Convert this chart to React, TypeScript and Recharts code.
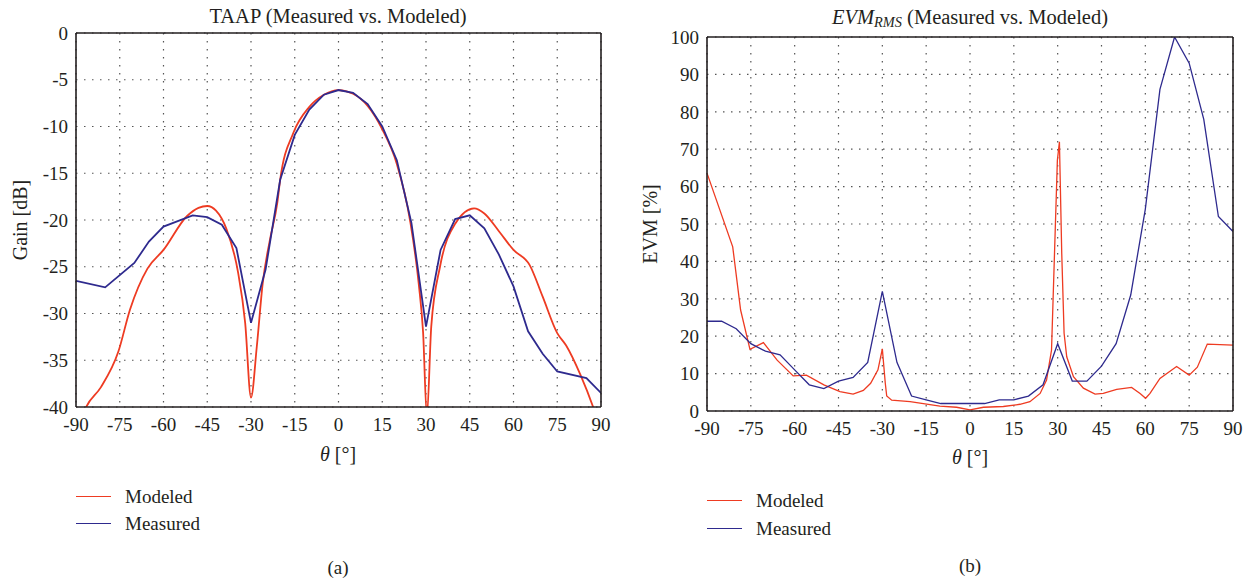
import { LineChart, Line, XAxis, YAxis, CartesianGrid } from 'recharts';

// shared angle ticks
const angleTicks = [-90, -75, -60, -45, -30, -15, 0, 15, 30, 45, 60, 75, 90];
const gainTicks = [-40, -35, -30, -25, -20, -15, -10, -5, 0];
const evmTicks = [0, 10, 20, 30, 40, 50, 60, 70, 80, 90, 100];

// (a) TAAP, modeled
const taapModeledAngle = [-90, -86.5, -81.5, -75.5, -71.5, -65.5, -60, -52, -48, -45, -42, -38.5, -34.5, -32, -30, -28, -26, -23.5, -21, -20, -15.5, -10, -5, 0, 5, 10, 15, 20, 24.5, 27.5, 29, 30.3, 31.8, 34.8, 40, 46.5, 50, 55, 60, 65.5, 70, 75, 78, 83, 87.3, 90];
const taapModeledGain = [-43, -40, -37.9, -34.1, -29.6, -25.2, -23.2, -19.6, -18.7, -18.5, -19, -20.9, -25.5, -31, -39, -33.5, -26.8, -22.1, -18.2, -15.7, -10.7, -7.9, -6.6, -6.1, -6.5, -7.8, -10.3, -14, -20, -26.8, -32, -41, -31.4, -25, -20.4, -18.75, -19.3, -21.2, -23.2, -24.8, -28.2, -32.1, -33.4, -36.6, -40, -42.5];

// (a) TAAP, measured
const taapMeasuredAngle = [-90, -80, -70, -65, -60, -50, -45, -40, -35, -30, -25, -20, -15, -10, -5, 0, 5, 10, 15, 20, 25, 30, 35, 40, 45, 50, 55, 60, 65, 70, 75, 85, 90];
const taapMeasuredGain = [-26.5, -27.2, -24.6, -22.3, -20.7, -19.5, -19.7, -20.5, -23, -31, -25.3, -15.7, -10.9, -8.2, -6.6, -6.1, -6.4, -7.6, -10, -13.6, -20.3, -31.4, -23.2, -19.9, -19.5, -20.9, -23.7, -27.1, -31.9, -34.3, -36.2, -36.9, -38.5];

// (b) EVM, modeled
const evmModeledAngle = [-90, -81.2, -78.5, -75.3, -70.7, -66, -60.5, -56, -50, -44.5, -40, -36.5, -34, -31.5, -30, -29, -28.5, -26.8, -20.5, -10.3, -4.6, 0, 4.6, 11.4, 17.1, 20.5, 24, 26.2, 27.9, 29.9, 30.6, 31.4, 32.2, 33.1, 35.4, 38.8, 42.8, 45.6, 50.2, 55.3, 58.2, 60.1, 61.6, 65, 70.7, 75, 77.8, 81.2, 90];
const evmModeledValue = [63.6, 43.9, 27, 16.5, 18.3, 13.6, 9.4, 9.6, 7, 5.2, 4.5, 5.5, 7.4, 11, 16.6, 7.5, 4, 2.9, 2.5, 1.3, 1, 0.3, 1, 1.2, 1.8, 2.5, 4.7, 8.3, 16.3, 67, 72, 42, 20.8, 14.5, 9.2, 6.1, 4.5, 4.7, 5.8, 6.3, 4.7, 3.4, 4.7, 8.7, 11.9, 9.6, 11.7, 17.9, 17.6];

// (b) EVM, measured
const evmMeasuredAngle = [-90, -85, -80, -75, -70, -65, -60, -55, -50, -45, -40, -35, -30, -25, -20, -15, -10, -5, 0, 5, 10, 15, 20, 25, 30, 35, 40, 45, 50, 55, 60, 65, 70, 75, 80, 85, 90];
const evmMeasuredValue = [24, 24, 22, 18, 16, 15, 11, 7, 6, 8, 9, 13, 32, 13, 4, 3, 2, 2, 2, 2, 3, 3, 4, 7, 18, 8, 8, 12, 18, 31, 54, 86, 100, 93, 78, 52, 48];

const RED = '#ee3b22';
const BLUE = '#2e2a8e';
const INK = '#231f20';
const FONT = '"Liberation Serif", "DejaVu Serif", serif';

const toPoints = (xs: number[], ys: number[]) => xs.map((x, i) => ({ x, y: ys[i] }));

const tickStyle = { fontSize: 19, fill: INK, fontFamily: FONT };

function Panel({
  width, height, margin, yWidth, yTicks, yDomain, modeled, measured, curved, lineWidth,
}: {
  width: number; height: number; margin: any; yWidth: number; yTicks: number[]; yDomain: [number, number];
  modeled: { x: number; y: number }[]; measured: { x: number; y: number }[]; curved: boolean; lineWidth: number;
}) {
  return (
    <LineChart width={width} height={height} margin={margin}>
      <CartesianGrid xAxisId="x" yAxisId="y" stroke="#555" strokeDasharray="1.5 6.5" strokeWidth={1.2} />
      <XAxis xAxisId="x" dataKey="x" type="number" domain={[-90, 90]} ticks={angleTicks} allowDataOverflow
        tick={tickStyle} tickLine={false} tickSize={0} tickMargin={11} height={30}
        axisLine={{ stroke: INK, strokeWidth: 1.6 }} />
      <XAxis xAxisId="xin" dataKey="x" type="number" domain={[-90, 90]} ticks={angleTicks} allowDataOverflow
        mirror tick={false} tickSize={5} tickLine={{ stroke: INK }} axisLine={false} />
      <XAxis xAxisId="xtop" orientation="top" dataKey="x" type="number" domain={[-90, 90]} ticks={angleTicks} allowDataOverflow
        mirror tick={false} tickSize={5} tickLine={{ stroke: INK }} axisLine={{ stroke: INK, strokeWidth: 1.6 }} />
      <YAxis yAxisId="y" dataKey="y" type="number" domain={yDomain} ticks={yTicks} allowDataOverflow width={yWidth}
        tick={tickStyle} tickLine={false} tickSize={0} tickMargin={8}
        axisLine={{ stroke: INK, strokeWidth: 1.6 }} />
      <YAxis yAxisId="yin" dataKey="y" type="number" domain={yDomain} ticks={yTicks} allowDataOverflow
        mirror tick={false} tickSize={5} tickLine={{ stroke: INK }} axisLine={false} />
      <YAxis yAxisId="yright" orientation="right" dataKey="y" type="number" domain={yDomain} ticks={yTicks} allowDataOverflow
        mirror tick={false} tickSize={5} tickLine={{ stroke: INK }} axisLine={{ stroke: INK, strokeWidth: 1.6 }} />
      <Line xAxisId="x" yAxisId="y" data={modeled} dataKey="y" type={curved ? 'monotone' : 'linear'}
        stroke={RED} strokeWidth={lineWidth} dot={false} isAnimationActive={false} />
      <Line xAxisId="x" yAxisId="y" data={measured} dataKey="y" type="linear"
        stroke={BLUE} strokeWidth={lineWidth} dot={false} isAnimationActive={false} />
    </LineChart>
  );
}

const textBase: React.CSSProperties = {
  position: 'absolute', fontFamily: FONT, color: INK, fontSize: 19, whiteSpace: 'nowrap', lineHeight: 1,
};

function Centered({ x, y, children, style }: { x: number; y: number; children: any; style?: React.CSSProperties }) {
  return (
    <div style={{ ...textBase, left: x, top: y, transform: 'translate(-50%, -50%)', ...style }}>{children}</div>
  );
}

function LegendBox({ x, y, gap }: { x: number; y: number; gap: number }) {
  const row = (color: string, label: string, top: number) => (
    <div style={{ position: 'absolute', left: x, top: top - 10, height: 20, display: 'flex', alignItems: 'center' }}>
      <div style={{ width: 35, height: 0, borderTop: `1.3px solid ${color}` }} />
      <span style={{ ...textBase, position: 'static', marginLeft: 14 }}>{label}</span>
    </div>
  );
  return (
    <>
      {row(RED, 'Modeled', y)}
      {row(BLUE, 'Measured', y + gap)}
    </>
  );
}

export default function App() {
  return (
    <div style={{ position: 'absolute', left: 0, top: 0, width: 1253, height: 582, background: '#fff', overflow: 'hidden' }}>
      <div style={{ position: 'absolute', left: 0, top: 0 }}>
        <Panel width={620} height={450} margin={{ top: 33, right: 19, bottom: 13, left: 0 }} yWidth={76}
          yTicks={gainTicks} yDomain={[-40, 0]}
          modeled={toPoints(taapModeledAngle, taapModeledGain)}
          measured={toPoints(taapMeasuredAngle, taapMeasuredGain)} curved lineWidth={1.8} />
      </div>
      <div style={{ position: 'absolute', left: 620, top: 0 }}>
        <Panel width={633} height={450} margin={{ top: 37, right: 20, bottom: 9, left: 0 }} yWidth={87}
          yTicks={evmTicks} yDomain={[0, 100]}
          modeled={toPoints(evmModeledAngle, evmModeledValue)}
          measured={toPoints(evmMeasuredAngle, evmMeasuredValue)} curved={false} lineWidth={1.3} />
      </div>

      <Centered x={338} y={16} style={{ fontSize: 20.5 }}>TAAP (Measured vs. Modeled)</Centered>
      <Centered x={970} y={18} style={{ fontSize: 20.5 }}>
        <i>EVM<sub style={{ fontSize: '0.7em', verticalAlign: '-0.25em' }}>RMS</sub></i> (Measured vs. Modeled)
      </Centered>

      <Centered x={20} y={220} style={{ fontSize: 20, transform: 'translate(-50%, -50%) rotate(-90deg)' }}>Gain [dB]</Centered>
      <Centered x={650} y={224} style={{ fontSize: 20, transform: 'translate(-50%, -50%) rotate(-90deg)' }}>EVM [%]</Centered>

      <Centered x={338} y={454} style={{ fontSize: 20 }}><i>θ</i> [°]</Centered>
      <Centered x={970} y={457} style={{ fontSize: 20 }}><i>θ</i> [°]</Centered>

      <LegendBox x={76} y={496} gap={27} />
      <LegendBox x={707} y={500} gap={28} />

      <Centered x={338} y={567}>(a)</Centered>
      <Centered x={970} y={565}>(b)</Centered>
    </div>
  );
}
